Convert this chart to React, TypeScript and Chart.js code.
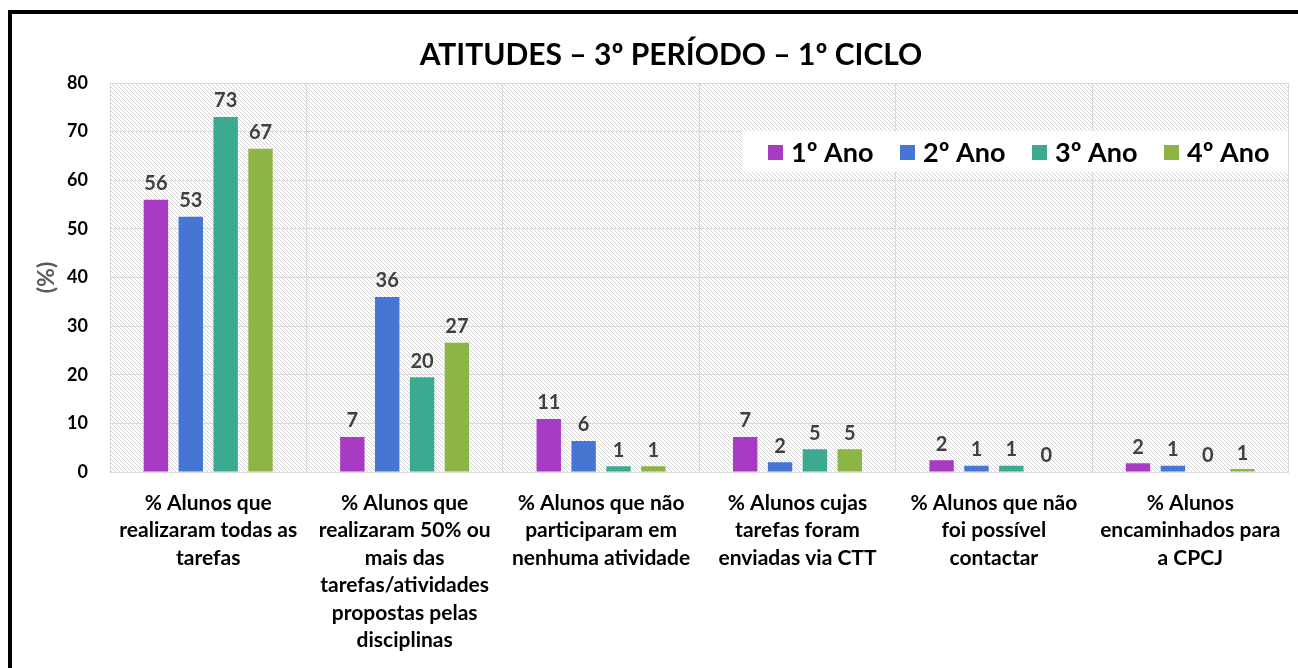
import React, { useEffect, useRef } from 'react';
import { Chart, registerables } from 'chart.js';

Chart.register(...registerables);

const chartTitle = 'ATITUDES – 3º PERÍODO – 1º CICLO';
const yAxisTitle = '(%)';
const categories: string[][] = [
  ['% Alunos que', 'realizaram todas as', 'tarefas'],
  ['% Alunos que', 'realizaram 50% ou', 'mais das', 'tarefas/atividades', 'propostas pelas', 'disciplinas'],
  ['% Alunos que não', 'participaram em', 'nenhuma atividade'],
  ['% Alunos cujas', 'tarefas foram', 'enviadas via CTT'],
  ['% Alunos que não', 'foi possível', 'contactar'],
  ['% Alunos', 'encaminhados para', 'a CPCJ'],
];
const seriesNames = ['1º Ano', '2º Ano', '3º Ano', '4º Ano'];
const seriesColors = ['#A83BC3', '#4576D3', '#3BAA90', '#8DB545'];
const ano1 = [56, 7.2, 10.9, 7.2, 2.4, 1.8];
const ano2 = [52.5, 36, 6.4, 2, 1.3, 1.3];
const ano3 = [73, 19.5, 1.2, 4.7, 1.3, 0];
const ano4 = [66.5, 26.6, 1.2, 4.7, 0, 0.6];
const yTicksMin = 0;
const yTicksMax = 80;
const yTicksStep = 10;

const FONT = 'Lato, "Open Sans", sans-serif';

function makePattern(ctx: CanvasRenderingContext2D) {
  const c = document.createElement('canvas');
  const s = 4;
  c.width = s;
  c.height = s;
  const p = c.getContext('2d')!;
  p.fillStyle = '#ffffff';
  p.fillRect(0, 0, s, s);
  p.strokeStyle = '#d4d4d4';
  p.lineWidth = 1;
  p.beginPath();
  p.moveTo(-1, -1);
  p.lineTo(s + 1, s + 1);
  p.moveTo(-1, s - 1);
  p.lineTo(1, s + 1);
  p.moveTo(s - 1, -1);
  p.lineTo(s + 1, 1);
  p.stroke();
  return ctx.createPattern(c, 'repeat');
}

const backgroundPlugin = {
  id: 'bgFrame',
  beforeDraw(chart: any) {
    const { ctx, chartArea } = chart;
    ctx.save();
    ctx.fillStyle = '#ffffff';
    ctx.fillRect(0, 0, chart.width, chart.height);
    // outer frame
    ctx.fillStyle = '#000000';
    ctx.fillRect(8, 10, 4, chart.height);
    ctx.fillRect(8, 10, chart.width, 4);
    // hatched plot background
    const pat = makePattern(ctx);
    if (pat) {
      ctx.fillStyle = pat;
      ctx.fillRect(chartArea.left, chartArea.top, chartArea.right - chartArea.left, chartArea.bottom - chartArea.top);
    }
    // title
    ctx.fillStyle = '#000000';
    ctx.font = `bold 30px ${FONT}`;
    ctx.textAlign = 'center';
    ctx.textBaseline = 'middle';
    ctx.fillText(chartTitle, 671, 55);
    ctx.restore();
  },
};

const labelsPlugin = {
  id: 'valueLabels',
  afterDatasetsDraw(chart: any) {
    const { ctx } = chart;
    ctx.save();
    ctx.font = `bold 20px ${FONT}`;
    ctx.fillStyle = '#404040';
    ctx.textAlign = 'center';
    ctx.textBaseline = 'bottom';
    chart.data.datasets.forEach((ds: any, i: number) => {
      const meta = chart.getDatasetMeta(i);
      meta.data.forEach((bar: any, j: number) => {
        const v = ds.data[j];
        ctx.fillText(String(Math.round(v)), bar.x, bar.y - 6);
      });
    });
    ctx.restore();
  },
};

const legendPlugin = {
  id: 'insideLegend',
  afterDraw(chart: any) {
    const { ctx } = chart;
    ctx.save();
    ctx.fillStyle = '#ffffff';
    ctx.fillRect(742, 131, 546, 41);
    ctx.font = `bold 27px ${FONT}`;
    ctx.textBaseline = 'middle';
    ctx.textAlign = 'left';
    const cy = 152;
    chart.data.datasets.forEach((ds: any, i: number) => {
      const x = 768 + i * 132;
      ctx.fillStyle = ds.backgroundColor;
      ctx.fillRect(x, cy - 7, 15, 15);
      ctx.fillStyle = '#000000';
      ctx.fillText(ds.label, x + 23, cy + 1);
    });
    ctx.restore();
  },
};

export default function App() {
  const ref = useRef<HTMLCanvasElement>(null);
  useEffect(() => {
    if (!ref.current) return;
    const series = [ano1, ano2, ano3, ano4];
    const chart = new Chart(ref.current, {
      type: 'bar',
      data: {
        labels: categories,
        datasets: series.map((d, i) => ({
          label: seriesNames[i],
          data: d,
          backgroundColor: seriesColors[i],
          borderWidth: 0,
          categoryPercentage: 0.71,
          barPercentage: 0.7,
        })),
      },
      options: {
        responsive: false,
        animation: false,
        layout: { padding: { left: 12, top: 83, right: 6, bottom: 0 } },
        plugins: {
          legend: { display: false },
          title: { display: false },
          tooltip: { enabled: false },
        },
        scales: {
          x: {
            grid: { color: '#d9d9d9', offset: true, drawTicks: false },
            border: { color: '#d9d9d9' },
            ticks: {
              color: '#000000',
              font: { family: FONT, size: 21, weight: 'bold', lineHeight: '27.5px' },
              padding: 17,
              maxRotation: 0,
              autoSkip: false,
            },
            afterFit: (s: any) => { s.height = 196; },
          },
          y: {
            min: yTicksMin,
            max: yTicksMax,
            grid: { color: '#d9d9d9', drawTicks: false },
            border: { color: '#d9d9d9' },
            ticks: {
              stepSize: yTicksStep,
              color: '#000000',
              font: { family: FONT, size: 18, weight: 'bold' },
              padding: 22,
            },
            title: {
              display: true,
              text: yAxisTitle,
              color: '#595959',
              font: { family: FONT, size: 23, weight: 'bold' },
              padding: { top: 21, bottom: 0 },
            },
            afterFit: (s: any) => { s.width = 98; },
          },
        },
      },
      plugins: [backgroundPlugin, labelsPlugin, legendPlugin],
    });
    return () => chart.destroy();
  }, []);
  return (
    <div style={{ position: 'fixed', left: 0, top: 0, width: 1298, height: 668, overflow: 'hidden' }}>
      <canvas ref={ref} width={1298} height={668} style={{ display: 'block' }} />
    </div>
  );
}
